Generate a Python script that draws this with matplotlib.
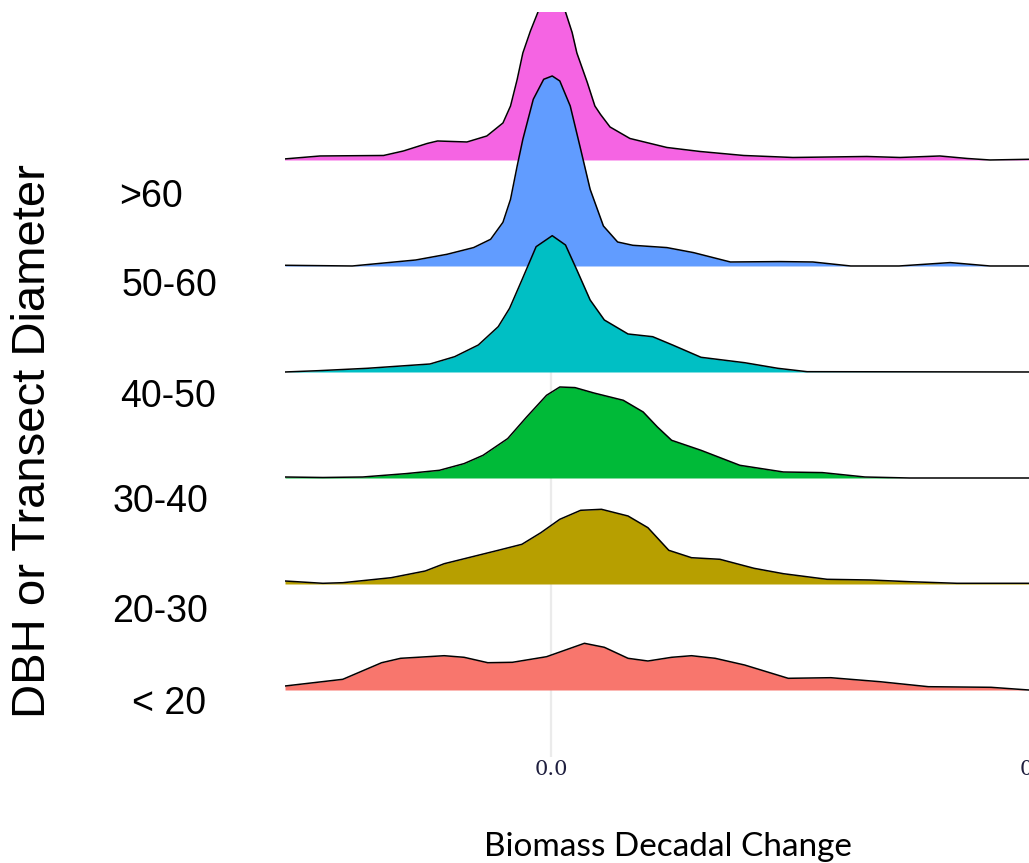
import numpy as np
import matplotlib.pyplot as plt

# DBH classes, bottom ridge first
groups = ["< 20", "20-30", "30-40", "40-50", "50-60", ">60"]
colors = ["#F8766D", "#B79F00", "#00BA38", "#00BFC4", "#619CFF", "#F564E3"]

# density curves (x = biomass decadal change, d = relative density)
lt20_x = [-0.281, -0.220, -0.179, -0.159, -0.113, -0.092, -0.067, -0.041, -0.005, 0.035,
          0.056, 0.081, 0.102, 0.127, 0.148, 0.173, 0.204, 0.250, 0.295, 0.347, 0.398,
          0.464, 0.504]
lt20_d = [4, 10.7, 27.3, 31.7, 34.3, 32.7, 27.3, 27.7, 33.3, 46.7, 42.7, 31.7, 29, 32.7,
          34.3, 31.7, 25, 11.7, 12.3, 8.3, 3.3, 2.7, 0]

d20_x = [-0.281, -0.241, -0.220, -0.169, -0.133, -0.113, -0.056, -0.031, -0.011, 0.009,
         0.031, 0.053, 0.081, 0.102, 0.124, 0.148, 0.178, 0.214, 0.245, 0.291, 0.337,
         0.378, 0.428, 0.504]
d20_d = [3, 0.7, 1.3, 6.3, 13, 20.3, 33.7, 39.7, 51.3, 64.7, 73.7, 74.7, 68, 56.3, 33.7,
         26.3, 24.7, 15.7, 10.3, 4.7, 4, 2.3, 0.7, 0.7]

d30_x = [-0.281, -0.241, -0.199, -0.153, -0.118, -0.092, -0.072, -0.046, -0.026, -0.005,
         0.009, 0.025, 0.045, 0.076, 0.097, 0.112, 0.127, 0.158, 0.199, 0.245, 0.286,
         0.331, 0.378, 0.504]
d30_d = [1, 0.5, 1, 4.4, 7.7, 14.4, 22.7, 39.4, 61, 82.7, 91, 90.4, 85, 77.7, 66, 51,
         37.7, 27.7, 12.7, 6, 5.4, 1, 0, 0]

d40_x = [-0.281, -0.246, -0.194, -0.128, -0.102, -0.077, -0.056, -0.044, -0.031, -0.016,
         0.001, 0.015, 0.027, 0.041, 0.056, 0.081, 0.107, 0.128, 0.158, 0.204, 0.239,
         0.270, 0.504]
d40_d = [0, 1.3, 3.7, 8, 15.3, 27, 45.3, 63.7, 92, 125.3, 136.3, 127, 102, 72, 52, 38,
         35.3, 27, 14.7, 9.3, 3.7, 0.3, 0]

d50_x = [-0.281, -0.210, -0.143, -0.110, -0.082, -0.064, -0.051, -0.043, -0.036, -0.030,
         -0.019, -0.008, 0.001, 0.009, 0.020, 0.031, 0.036, 0.041, 0.055, 0.070, 0.086,
         0.122, 0.150, 0.189, 0.242, 0.276, 0.316, 0.367, 0.421, 0.463, 0.504]
d50_d = [0.7, 0, 6, 11.7, 18.4, 26.7, 43.7, 66.7, 100, 126.7, 166.7, 186.7, 190, 185,
         160, 116.7, 96.7, 76.7, 40, 24, 20.7, 18.4, 13.4, 4, 4.4, 4, 0, 0, 3.4, 0, 0]

gt60_x = [-0.282, -0.244, -0.177, -0.156, -0.131, -0.120, -0.089, -0.068, -0.051, -0.043,
          -0.036, -0.030, -0.022, -0.014, 0.000, 0.015, 0.022, 0.027, 0.038, 0.046, 0.052,
          0.062, 0.083, 0.122, 0.157, 0.203, 0.255, 0.333, 0.368, 0.410, 0.439, 0.463,
          0.504]
gt60_d = [1, 4, 4.5, 9, 16.5, 19, 18, 24, 37, 54, 80.5, 107, 129, 148, 185, 148, 127.5,
          107, 77.5, 54, 45.5, 33, 21.5, 12.5, 8.5, 4.5, 2.5, 3.5, 2.5, 4, 1.5, 0, 0.7]

curves = [(lt20_x, lt20_d), (d20_x, d20_d), (d30_x, d30_d),
          (d40_x, d40_d), (d50_x, d50_d), (gt60_x, gt60_d)]

W, H = 1029, 863
scale = 1 / 106.0

fig = plt.figure(figsize=(W / 100, H / 100), dpi=100)
ax = fig.add_axes([285 / W, 1 - 757 / H, (1045 - 285) / W, (757 - 12) / H])

# top ridge drawn first so the lower ones sit in front
for i in reversed(range(len(groups))):
    x, d = curves[i]
    top = i + np.array(d) * scale
    z = 2 + (len(groups) - i) * 2
    ax.fill_between(x, i, top, color=colors[i], lw=0, zorder=z)
    ax.plot(x, top, color="black", lw=1.1, zorder=z + 0.5)

ax.set_xlim(-0.281, 0.521)
ax.set_ylim(-0.632, 6.396)
ax.set_xticks([0.0, 0.512], ["0.0", "0.5"])
ax.set_yticks([])
ax.grid(axis="x", color="#EBEBEB", lw=1.6, zorder=0)
ax.tick_params(axis="x", length=0, pad=2, labelsize=15, labelcolor="#1f1f3f")
for lab in ax.get_xticklabels():
    lab.set_fontfamily("DejaVu Serif")
for s in ax.spines.values():
    s.set_visible(False)

# hand placed class labels on the left
label_pos = {">60": (151, 197), "50-60": (169, 286), "40-50": (168, 397),
             "30-40": (160, 502), "20-30": (160, 612), "< 20": (169, 704)}
for g in groups:
    px, py = label_pos[g]
    fig.text(px / W, 1 - py / H, g, ha="center", va="center",
             family="Liberation Sans", fontsize=27)

fig.text(33 / W, 1 - 441 / H, "DBH or Transect Diameter", rotation=90,
         ha="center", va="center", family="Liberation Sans", fontsize=34)
fig.text(668 / W, 1 - 856 / H, "Biomass Decadal Change", ha="center",
         va="baseline", family="Lato", fontsize=24)

fig.savefig("out.png", dpi=100)
